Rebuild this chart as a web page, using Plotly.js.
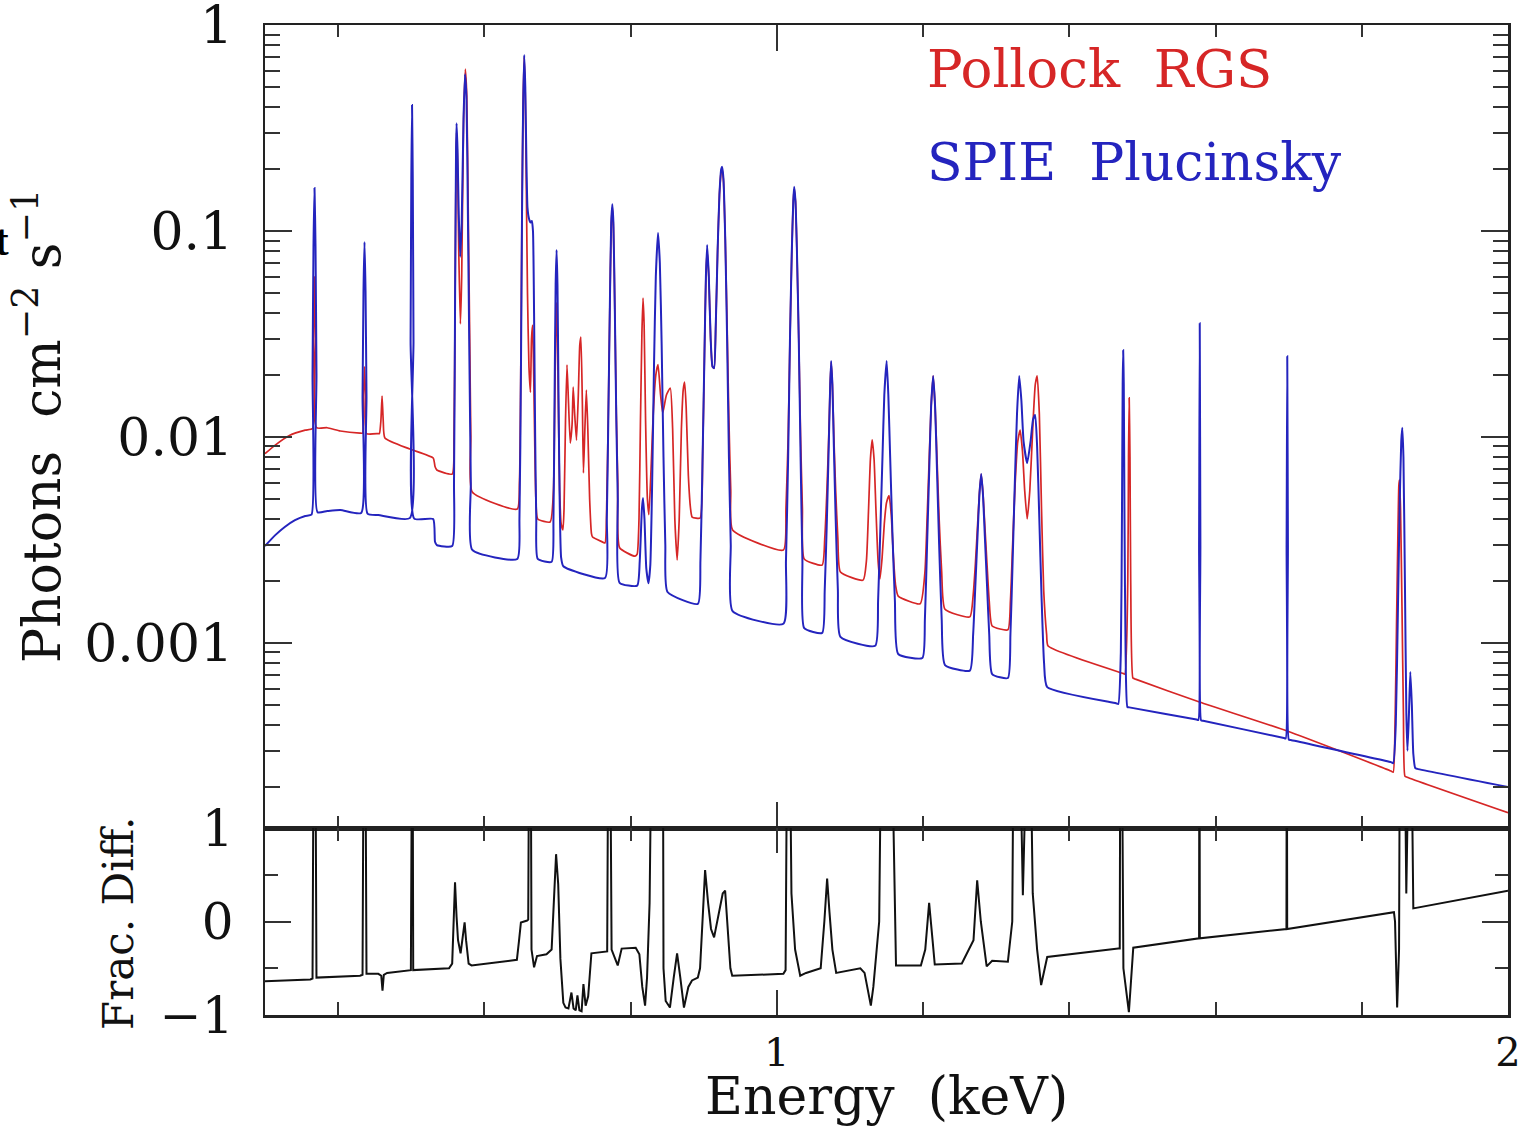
<!DOCTYPE html>
<html>
<head>
<meta charset="utf-8">
<script src="https://cdn.plot.ly/plotly-3.0.1.min.js"></script>
<style>html,body{margin:0;padding:0;background:#fff;}#chart{width:1533px;height:1128px;}</style>
</head>
<body>
<div id="chart"></div>
<script>
// Energy (keV) and flux (photons cm^-2 s^-1)
const pollockEnergy = [0.300,0.314,0.334,0.355,0.3650,0.3663,0.3677,0.3691,0.3704,0.385,0.403,0.430,0.4334,0.4347,0.4361,0.4375,0.4388,0.455,0.4565,0.4585,0.4601,0.4617,0.4640,0.498,0.530,0.5325,0.535,0.556,
0.5585,0.5600,0.5613,0.5620,0.5633,0.5650,0.5672,0.5690,0.5715,0.5740,0.5760,0.5780,0.5800,0.5815,0.5835,0.645,
0.648,0.650,0.6515,0.653,0.6545,0.656,0.6575,0.659,0.661,0.663,0.6645,0.666,0.6675,0.669,0.6705,0.673,0.690,
0.6945,0.6960,0.6975,0.6988,0.7000,0.7015,0.7030,0.7050,
0.7075,0.7090,0.7110,0.7130,0.7150,0.7175,0.7200,0.7215,0.7235,0.7260,0.7285,0.7305,0.7320,0.7340,0.7355,0.7375,0.7395,0.7415,0.7440,0.7465,0.7480,0.762,
0.765,0.7675,0.7695,0.7715,0.7735,0.7750,0.7765,0.7785,0.7805,0.7825,0.785,0.806,
0.809,0.8115,0.8135,0.8155,0.8170,0.8185,0.8205,0.8230,0.8250,0.8280,0.8310,0.8345,0.8375,0.8410,0.8440,0.8490,0.8543,0.8575,0.8605,0.8637,0.8665,0.8695,0.8720,0.8739,0.8760,0.8790,0.8820,0.8842,0.895,
0.8985,0.9010,0.9030,0.9047,0.9070,0.9095,0.9120,0.9142,0.9165,0.9190,0.9215,0.9240,0.9252,0.9270,0.9295,0.9320,0.9345,0.9370,0.9395,1.009,
1.0125,1.0155,1.0180,1.0205,1.0225,1.0237,1.0255,1.0275,1.0300,1.0325,1.0350,1.0375,1.062,
1.0655,1.0685,1.0710,1.0730,1.0743,1.0760,1.0780,1.0805,1.0835,1.087,1.118,
1.1225,1.1255,1.1280,1.1304,1.1330,1.1355,1.1385,1.1410,1.1440,1.1470,1.1500,1.1535,1.1565,1.1595,1.1625,1.1660,1.196,
1.2025,1.2055,1.2085,1.2110,1.2138,1.2165,1.2190,1.2220,1.2255,1.230,1.264,
1.2685,1.2715,1.2745,1.2770,1.2795,1.2820,1.2845,1.2875,1.2905,1.2945,1.316,
1.3195,1.3225,1.3260,1.3295,1.3328,1.3360,1.3390,1.3424,1.3460,1.3500,1.3535,1.3561,1.3590,1.3620,1.3650,1.3690,1.3710,1.4735,1.476,
1.4800,1.4810,1.4819,1.4830,1.4840,1.4870,1.4895,1.578,1.698,1.840,1.843,
1.8455,1.8475,1.8495,1.8507,1.8515,1.8530,1.8550,1.8570,1.8590,1.8620,2.000];
const pollockFlux = [0.00830,0.00914,0.0102,0.0108,0.0110,0.030,0.060,0.030,0.0111,0.0111,0.0107,0.01045,0.01045,0.016,0.022,0.016,0.0104,0.0104,0.0104,0.012,0.0158,0.012,0.0099,0.00875,0.00791,0.0072,0.00692,0.00661,
0.010,0.05,0.22,0.30,0.22,0.08,0.0354,0.06,0.33,0.611,0.45,0.12,0.03,0.010,0.00541,0.00447,
0.006,0.025,0.13,0.42,0.70,0.45,0.15,0.05,0.022,0.0165,0.03,0.035,0.02,0.009,0.005,0.00400,0.00387,
0.0055,0.012,0.03,0.045,0.03,0.012,0.0055,0.0038,
0.00354,0.0045,0.012,0.0224,0.015,0.00935,0.0115,0.0175,0.013,0.00966,0.016,0.028,0.0306,0.015,0.00669,0.011,0.0169,0.011,0.005,0.0034,0.00327,0.00309,
0.00306,0.005,0.013,0.04,0.105,0.13,0.105,0.04,0.013,0.006,0.0029,0.00264,
0.0027,0.004,0.012,0.032,0.0473,0.035,0.012,0.005,0.0042,0.007,0.013,0.02,0.0225,0.016,0.0131,0.016,0.0173,0.011,0.004,0.00253,0.004,0.011,0.017,0.0185,0.014,0.0065,0.0045,0.00409,0.00404,
0.008,0.025,0.06,0.08,0.06,0.03,0.022,0.0216,0.035,0.08,0.15,0.195,0.2,0.175,0.09,0.035,0.012,0.0055,0.00354,0.00283,
0.0045,0.01,0.03,0.08,0.14,0.16,0.14,0.08,0.03,0.01,0.0045,0.00256,0.00239,
0.0032,0.0055,0.01,0.018,0.023,0.018,0.01,0.0055,0.0032,0.00221,0.00202,
0.0025,0.0045,0.0078,0.0097,0.0078,0.0045,0.0025,0.00205,0.0026,0.0038,0.0048,0.0052,0.0042,0.0026,0.0019,0.00169,0.00155,
0.0022,0.004,0.008,0.014,0.0198,0.014,0.008,0.004,0.0022,0.00146,0.00134,
0.0017,0.0024,0.0037,0.0053,0.0066,0.0053,0.0037,0.0024,0.0016,0.00121,0.00116,
0.0016,0.003,0.006,0.0095,0.0108,0.0085,0.0055,0.0040,0.0055,0.011,0.018,0.0198,0.013,0.0045,0.0018,0.0011,0.000967,0.000712,0.000707,
0.002,0.008,0.0155,0.008,0.002,0.000676,0.000670,0.000517,0.000374,0.000239,0.000236,
0.0004,0.0012,0.0035,0.0058,0.0062,0.0045,0.0015,0.00045,0.000226,0.000223,0.000150];

const spieEnergy = [0.300,0.314,0.327,0.341,0.355,0.3636,0.3650,0.3663,0.3677,0.3691,0.3704,0.3718,0.385,0.403,0.4315,0.4334,0.4347,0.4361,0.4375,0.4388,0.4402,0.455,0.498,0.4991,0.5001,0.5011,0.5021,0.5031,0.5041,0.530,0.5325,0.535,0.556,
0.5585,0.5600,0.5613,0.5620,0.5633,0.5650,0.5670,0.5690,0.5715,0.5735,0.5755,0.5775,0.5795,0.5815,0.5835,0.645,
0.648,0.650,0.6515,0.653,0.6545,0.656,0.6575,0.659,0.661,0.663,0.665,0.6665,0.668,0.6695,0.671,0.673,0.692,
0.6945,0.6960,0.6975,0.6988,0.7000,0.7015,0.7030,0.7050,0.708,0.765,
0.7675,0.7695,0.7715,0.7735,0.7750,0.7765,0.7785,0.7805,0.7825,0.785,0.809,
0.8125,0.8155,0.8170,0.8190,0.8215,0.8245,0.8270,0.8295,0.8320,0.8345,0.8375,0.8400,0.8425,0.8450,0.8475,0.8505,0.892,
0.8955,0.8985,0.9010,0.9030,0.9047,0.9070,0.9095,0.9120,0.9142,0.9165,0.9190,0.9215,0.9240,0.9252,0.9270,0.9295,0.9320,0.9345,0.9370,0.9395,1.009,
1.0125,1.0155,1.0180,1.0205,1.0225,1.0237,1.0255,1.0275,1.0300,1.0325,1.0350,1.0375,1.062,
1.0655,1.0685,1.0710,1.0730,1.0743,1.0760,1.0780,1.0805,1.0835,1.087,1.1345,
1.1385,1.1415,1.1445,1.1470,1.1502,1.1525,1.1550,1.1580,1.1615,1.1660,1.199,
1.2025,1.2055,1.2085,1.2110,1.2138,1.2165,1.2190,1.2220,1.2255,1.230,1.264,
1.2685,1.2715,1.2745,1.2770,1.2795,1.2820,1.2845,1.2875,1.2905,1.2945,1.316,
1.3195,1.3225,1.3255,1.3285,1.3315,1.3345,1.3375,1.3424,1.3470,1.3505,1.3533,1.3560,1.3590,1.3620,1.3655,1.3698,1.4640,1.467,
1.4705,1.4720,1.4730,1.4737,1.4745,1.4755,1.4770,1.4795,1.4820,1.5740,1.5765,1.5775,1.5784,1.5793,1.5803,1.5830,
1.6935,1.6960,1.6972,1.6981,1.6990,1.7002,1.7030,1.840,1.843,
1.8465,1.8495,1.8520,1.8540,1.8554,1.8570,1.8590,1.8610,1.8625,1.8645,1.8664,1.8685,1.8705,1.8732,1.8760,2.000];
const spieFlux = [0.00296,0.00334,0.00366,0.00395,0.00414,0.00420,0.020,0.084,0.162,0.084,0.020,0.00432,0.00437,0.00442,0.00428,0.0157,0.0513,0.0885,0.0513,0.0157,0.00425,0.00418,0.00404,0.0293,0.178,0.409,0.178,0.0293,0.00402,0.00400,0.0031,0.00299,0.00296,
0.006,0.05,0.25,0.334,0.25,0.12,0.075,0.11,0.35,0.578,0.45,0.12,0.025,0.006,0.00283,0.00256,
0.004,0.02,0.12,0.4,0.715,0.5,0.22,0.13,0.115,0.11,0.112,0.1,0.04,0.01,0.004,0.00256,0.00248,
0.004,0.015,0.055,0.0809,0.055,0.015,0.005,0.0026,0.00236,0.00207,
0.004,0.012,0.04,0.11,0.135,0.11,0.04,0.012,0.005,0.00196,0.0019,
0.0025,0.0045,0.00506,0.0040,0.0023,0.00195,0.0024,0.006,0.022,0.06,0.0978,0.07,0.028,0.008,0.0030,0.00177,0.00155,
0.0025,0.008,0.025,0.06,0.0855,0.06,0.03,0.022,0.0216,0.035,0.08,0.15,0.2,0.205,0.18,0.09,0.03,0.008,0.003,0.00143,0.00124,
0.0025,0.008,0.03,0.08,0.14,0.164,0.14,0.08,0.03,0.008,0.0025,0.00118,0.00112,
0.0018,0.004,0.009,0.018,0.0234,0.018,0.009,0.004,0.0018,0.00107,0.00097,
0.0016,0.0035,0.008,0.016,0.0234,0.016,0.008,0.0035,0.0016,0.000885,0.000846,
0.0013,0.003,0.007,0.014,0.0198,0.014,0.007,0.003,0.0013,0.000782,0.000735,
0.0011,0.0019,0.0033,0.0052,0.00661,0.0052,0.0033,0.0019,0.0011,0.000707,0.000676,
0.0011,0.0025,0.006,0.013,0.0198,0.015,0.0095,0.00748,0.0095,0.0122,0.0128,0.009,0.004,0.0017,0.0008,0.000611,0.000510,0.000506,
0.0009,0.004,0.018,0.0264,0.018,0.004,0.0009,0.000489,0.000487,0.000425,0.000423,0.003,0.0357,0.003,0.000421,0.000419,
0.000346,0.000344,0.003,0.0247,0.003,0.000340,0.000338,0.000264,0.000261,
0.0004,0.0015,0.005,0.0095,0.0111,0.008,0.002,0.00045,0.000300,0.00045,0.000723,0.0005,0.00029,0.000247,0.000245,0.000200];

// Fractional difference panel (values above 1 run off the top of the panel)
const diffEnergy = [0.300,0.362,0.3650,0.3670,0.3684,0.3704,0.430,0.4334,0.4354,0.4368,0.4388,0.4550,0.4590,0.4607,0.4625,0.4670,0.4995,0.5006,0.5016,0.5027,0.5517,
0.5560,0.5585,0.5599,0.5620,0.5640,0.5675,0.5705,0.5730,0.5750,0.5785,0.5825,0.6445,0.6475,0.6500,0.6585,0.6600,0.6618,0.6630,0.6645,0.6680,0.6720,0.6850,
0.6920,0.6950,0.6981,0.7010,0.7040,0.7080,0.7110,0.7150,0.7191,0.7220,0.7250,0.7273,0.7300,0.7330,0.7355,0.7385,0.7420,0.7464,0.7631,0.7680,0.7700,0.7714,0.7740,
0.7824,0.7878,0.8070,0.8120,0.8160,0.8198,0.8225,0.8260,0.8300,0.8440,0.8450,0.8480,0.8538,0.8590,0.8636,0.8680,0.8730,0.8790,0.8840,0.8920,
0.8950,0.8990,0.9019,0.9060,0.9100,0.9142,0.9200,0.9260,0.9293,0.9330,0.9365,0.9390,1.0090,1.0120,1.0148,1.0165,1.0200,1.0250,1.0320,1.0400,
1.0600,1.0650,1.0688,1.0720,1.0760,1.0812,1.1142,1.1200,1.1250,1.1286,1.1320,1.1400,1.1440,1.1550,1.1630,1.1970,
1.2030,1.2083,1.2130,1.2160,1.2530,1.2690,1.2740,1.2790,1.2870,1.2945,1.3160,1.3220,1.3246,1.3300,1.3365,1.3400,1.3421,1.3450,1.3500,1.3560,1.3615,1.3698,
1.4670,1.4690,1.4700,1.4712,1.4740,1.4815,1.4875,1.5775,1.5780,1.5785,1.6970,1.6975,1.6980,
1.8440,1.8455,1.8484,1.8510,1.8525,1.8575,1.8609,1.8635,1.8665,1.8705,2.000];
const diffValue = [-0.64,-0.62,-0.61,3,3,-0.60,-0.58,-0.57,3,3,-0.56,-0.56,-0.58,-0.74,-0.57,-0.55,-0.52,3,3,-0.52,-0.50,
-0.45,0.1,0.42,0.05,-0.2,-0.34,-0.15,-0.01,-0.2,-0.45,-0.47,-0.41,-0.2,-0.01,0.01,0.02,3,3,-0.3,-0.49,-0.37,-0.35,
-0.3,0.3,0.72,0.4,-0.4,-0.87,-0.92,-0.93,-0.76,-0.93,-0.95,-0.79,-0.95,-0.96,-0.67,-0.9,-0.8,-0.34,-0.33,-0.32,3,3,-0.3,
-0.47,-0.29,-0.28,-0.35,-0.7,-0.9,-0.6,0.2,3,3,-0.5,-0.85,-0.92,-0.6,-0.34,-0.6,-0.92,-0.7,-0.63,-0.60,
-0.5,0.1,0.55,0.2,-0.08,-0.17,0.05,0.3,0.33,-0.1,-0.5,-0.58,-0.56,-0.52,3,3,0.3,-0.3,-0.58,-0.55,
-0.5,0.0,0.46,0.1,-0.3,-0.55,-0.5,-0.55,-0.75,-0.9,-0.7,0.0,3,3,-0.47,-0.47,
-0.3,0.2,-0.2,-0.46,-0.45,-0.2,0.44,0.0,-0.48,-0.42,-0.43,0.0,3,3,0.28,1.2,3,3,0.3,-0.3,-0.68,-0.38,
-0.29,-0.29,3,3,-0.5,-0.97,-0.28,-0.18,3,-0.18,-0.08,3,-0.08,
0.10,0.0,-0.92,-0.3,3,3,0.3,3,3,0.14,0.33];

const seriesNames = ['Pollock\u00A0 RGS', 'SPIE\u00A0 Plucinsky'];
const yTickVals = [-1, 0, 1];
const yTickText = ['\u22121', '0', '1'];

const RED = 'rgb(214,38,38)';
const BLUE = 'rgb(36,36,190)';
const FONT = 'DejaVu Serif';

const traces = [
  {x: pollockEnergy, y: pollockFlux, type: 'scatter', mode: 'lines', name: seriesNames[0],
   line: {color: RED, width: 1.7, shape: 'spline', smoothing: 0.5}, xaxis: 'x', yaxis: 'y', hoverinfo: 'skip'},
  {x: spieEnergy, y: spieFlux, type: 'scatter', mode: 'lines', name: seriesNames[1],
   line: {color: BLUE, width: 2, shape: 'spline', smoothing: 0.5}, xaxis: 'x', yaxis: 'y', hoverinfo: 'skip'},
  {x: diffEnergy, y: diffValue, type: 'scatter', mode: 'lines', name: 'Frac. Diff.',
   line: {color: '#111', width: 2}, xaxis: 'x2', yaxis: 'y2', hoverinfo: 'skip'}
];

const split = 187 / 990;
const axisCommon = {showgrid: false, zeroline: false, showline: true, linecolor: '#222', linewidth: 2.5,
  ticks: 'inside', mirror: 'ticks', tickcolor: '#333', tickwidth: 2, ticklabeloverflow: 'allow'};

const layout = {
  width: 1533, height: 1128,
  margin: {l: 265, r: 25, t: 25, b: 113},
  paper_bgcolor: '#fff', plot_bgcolor: '#fff',
  showlegend: false,
  font: {family: FONT, color: '#111'},
  xaxis: Object.assign({}, axisCommon, {domain: [0, 1], anchor: 'y', range: [0.3, 2.0], type: 'linear',
    tick0: 0, dtick: 1, ticklen: 26, showticklabels: false,
    minor: {tick0: 0, dtick: 0.2, ticklen: 12, ticks: 'inside', tickcolor: '#333', tickwidth: 2}}),
  xaxis2: Object.assign({}, axisCommon, {domain: [0, 1], anchor: 'y2', range: [0.3, 2.0], type: 'linear', matches: 'x',
    tick0: 0, dtick: 1, ticklen: 25, showticklabels: true, tickfont: {family: FONT, size: 40, color: '#111'},
    ticklabelstandoff: 0,
    minor: {tick0: 0, dtick: 0.2, ticklen: 13, ticks: 'inside', tickcolor: '#333', tickwidth: 2}}),
  yaxis: Object.assign({}, axisCommon, {domain: [split, 1], anchor: 'x', type: 'log', range: [-3.898, 0.0005],
    dtick: 1, ticklen: 27, exponentformat: 'none', tickfont: {family: FONT, size: 52, color: '#111'},
    ticklabelstandoff: 19,
    minor: {dtick: 'D1', ticklen: 15, ticks: 'inside', tickcolor: '#333', tickwidth: 2}}),
  yaxis2: Object.assign({}, axisCommon, {domain: [0, split], anchor: 'x2', range: [-1, 1],
    tickmode: 'array', tickvals: yTickVals, ticktext: yTickText, ticklen: 26,
    tickfont: {family: FONT, size: 50, color: '#111'}, ticklabelstandoff: 19,
    minor: {tick0: 0, dtick: 0.5, ticklen: 13, ticks: 'inside', tickcolor: '#333', tickwidth: 2}}),
  annotations: [
    {text: 'Photons\u00A0 cm<sup>\u22122</sup> s<sup>\u22121</sup>', xref: 'paper', yref: 'paper', x: -0.1826, y: 0.595,
     xanchor: 'center', yanchor: 'middle', textangle: -90, showarrow: false, font: {family: FONT, size: 52, color: '#111'}},
    {text: 'Frac. Diff.', xref: 'paper', yref: 'paper', x: -0.1183, y: 0.0929,
     xanchor: 'center', yanchor: 'middle', textangle: -90, showarrow: false, font: {family: FONT, size: 42, color: '#111'}},
    {text: 'Energy\u00A0 (keV)', xref: 'paper', yref: 'paper', x: 0.4996, y: -0.082,
     xanchor: 'center', yanchor: 'middle', showarrow: false, font: {family: FONT, size: 52, color: '#111'}},
    {text: seriesNames[0], xref: 'paper', yref: 'paper', x: 0.531, y: 0.9565,
     xanchor: 'left', yanchor: 'middle', showarrow: false, font: {family: FONT, size: 53, color: RED}},
    {text: seriesNames[1], xref: 'paper', yref: 'paper', x: 0.531, y: 0.862,
     xanchor: 'left', yanchor: 'middle', showarrow: false, font: {family: FONT, size: 52, color: BLUE}},
    {text: '<b>t</b>', xref: 'paper', yref: 'paper', x: -0.2043, y: 0.7828,
     xanchor: 'right', yanchor: 'middle', showarrow: false, font: {family: 'Liberation Serif', size: 44, color: '#000'}}
  ]
};

Plotly.newPlot('chart', traces, layout, {displayModeBar: false, staticPlot: true});
</script>
</body>
</html>
